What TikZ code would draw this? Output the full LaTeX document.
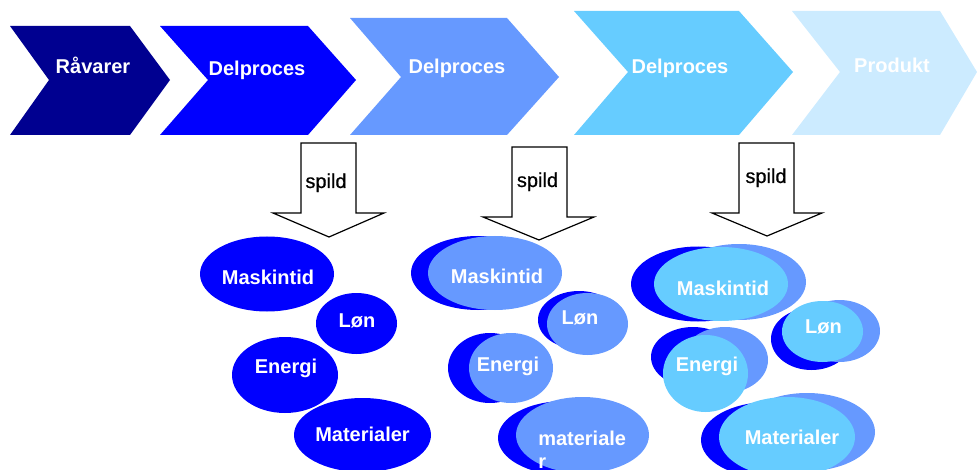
\documentclass[tikz,border=0pt]{standalone}
\usepackage{fontspec}
\setmainfont{Liberation Sans}
\newfontfamily\spildfont[FakeBold=0.6]{Liberation Sans}
\usetikzlibrary{shapes.geometric}
\definecolor{navy}{HTML}{000090}
\definecolor{pblue}{HTML}{0000FF}
\definecolor{mblue}{HTML}{6699FF}
\definecolor{sky}{HTML}{66CCFF}
\definecolor{pale}{HTML}{CCEBFF}
\tikzset{
  lbl/.style={anchor=base, text=white, font=\bfseries\fontsize{15}{18}\selectfont, inner sep=0pt},
  spildtxt/.style={anchor=base, text=black, font=\spildfont\fontsize{15}{18}\selectfont, inner sep=0pt},
  spildarrow/.style={draw=black, fill=white, line width=0.9pt, line join=miter},
  ell/.style 2 args={ellipse, inner sep=0pt, draw=none, minimum width=#1*0.75pt, minimum height=#2*0.75pt},
}
\begin{document}
\begin{tikzpicture}[x=0.75pt,y=-0.75pt]
\useasboundingbox (0,0) rectangle (977,470);
\clip (0,0) rectangle (977,470);
% chevrons
\fill[navy] (10,26) -- (130,26) -- (170,80) -- (130,135) -- (10,135) -- (49,80) -- cycle;
\fill[pblue] (160,26) -- (308,26) -- (356,80) -- (308,135) -- (160,135) -- (208,80) -- cycle;
\fill[mblue] (350,18) -- (507,18) -- (559,77) -- (507,135) -- (350,135) -- (401,77) -- cycle;
\fill[sky] (574,11) -- (739,11) -- (793,72) -- (739,135) -- (574,135) -- (628,72) -- cycle;
\fill[pale] (792,11) -- (940,11) -- (977,72) -- (940,135) -- (792,135) -- (840,72) -- cycle;
\node[lbl] (c1) at (93,74) {Råvarer};
\node[lbl] (c2) at (257,76) {Delproces};
\node[lbl] (c3) at (457,74) {Delproces};
\node[lbl] (c4) at (680,74) {Delproces};
\node[lbl] (c5) at (892,73) {Produkt};
% group 1
\node[ell={134}{75}, fill=pblue] (m1) at (267,274) {};
\node[ell={81}{61}, fill=pblue] (l1) at (356.5,323.5) {};
\node[ell={106}{76}, fill=pblue] (e1) at (285,375) {};
\node[ell={137}{74}, fill=pblue] (t1) at (362.5,435) {};
\node[lbl] (m1t) at (268,284) {Maskintid};
\node[lbl] (l1t) at (357,327) {Løn};
\node[lbl] (e1t) at (286,373) {Energi};
\node[lbl] (t1t) at (362.5,441) {Materialer};
% group 2
\node[ell={134}{74}, fill=pblue] (m2b) at (478,273) {};
\node[ell={134}{74}, fill=mblue] (m2) at (495,273) {};
\node[ell={82}{58}, fill=pblue] (l2b) at (579,320) {};
\node[ell={81}{62}, fill=mblue] (l2) at (587.5,324) {};
\node[ell={84}{70}, fill=pblue] (e2b) at (490,368) {};
\node[ell={84}{70}, fill=mblue] (e2) at (511,368) {};
\node[ell={134}{74}, fill=pblue] (t2b) at (565,438) {};
\node[ell={133}{76}, fill=mblue] (t2) at (582.5,435) {};
\node[lbl] (m2t) at (497,283) {Maskintid};
\node[lbl] (l2t) at (580,324) {Løn};
\node[lbl] (e2t) at (508,371) {Energi};
\node[lbl, anchor=base west] (t2t) at (538,445) {materiale};
\node[lbl, anchor=base west] (t2u) at (538,468) {r};
% group 3
\node[ell={134}{75}, fill=pblue] (m3a) at (698,284) {};
\node[ell={134}{76}, fill=mblue] (m3b) at (739,282) {};
\node[ell={134}{74}, fill=sky] (m3) at (721,284) {};
\node[ell={81}{62}, fill=pblue] (l3a) at (811.5,339) {};
\node[ell={81}{62}, fill=mblue] (l3b) at (839.5,331) {};
\node[ell={81}{61}, fill=sky] (l3) at (822.5,331.5) {};
\node[ell={84}{60}, fill=pblue] (e3a) at (693,357) {};
\node[ell={86}{66}, fill=mblue] (e3b) at (725,360) {};
\node[ell={85}{77}, fill=sky] (e3) at (705.5,373.5) {};
\node[ell={136}{76}, fill=pblue] (t3a) at (769,440) {};
\node[ell={136}{78}, fill=mblue] (t3b) at (807,432) {};
\node[ell={136}{80}, fill=sky] (t3) at (787,437) {};
\node[lbl] (m3t) at (723,295) {Maskintid};
\node[lbl] (l3t) at (823.5,333) {Løn};
\node[lbl] (e3t) at (707,371) {Energi};
\node[lbl] (t3t) at (792,444) {Materialer};
% spild arrows
\draw[spildarrow] (301,143) -- (356,143) -- (356,213) -- (384,213) -- (329,237) -- (273,213) -- (301,213) -- cycle;
\draw[spildarrow] (512,147) -- (567,147) -- (567,217) -- (594,217) -- (539,240) -- (483,217) -- (512,217) -- cycle;
\draw[spildarrow] (739,143) -- (794,143) -- (794,213) -- (822,213) -- (767,236) -- (712,213) -- (739,213) -- cycle;
\node[spildtxt] (s1) at (326,188) {spild};
\node[spildtxt] (s2) at (537.5,187) {spild};
\node[spildtxt] (s3) at (766,183) {spild};
\end{tikzpicture}
\end{document}
